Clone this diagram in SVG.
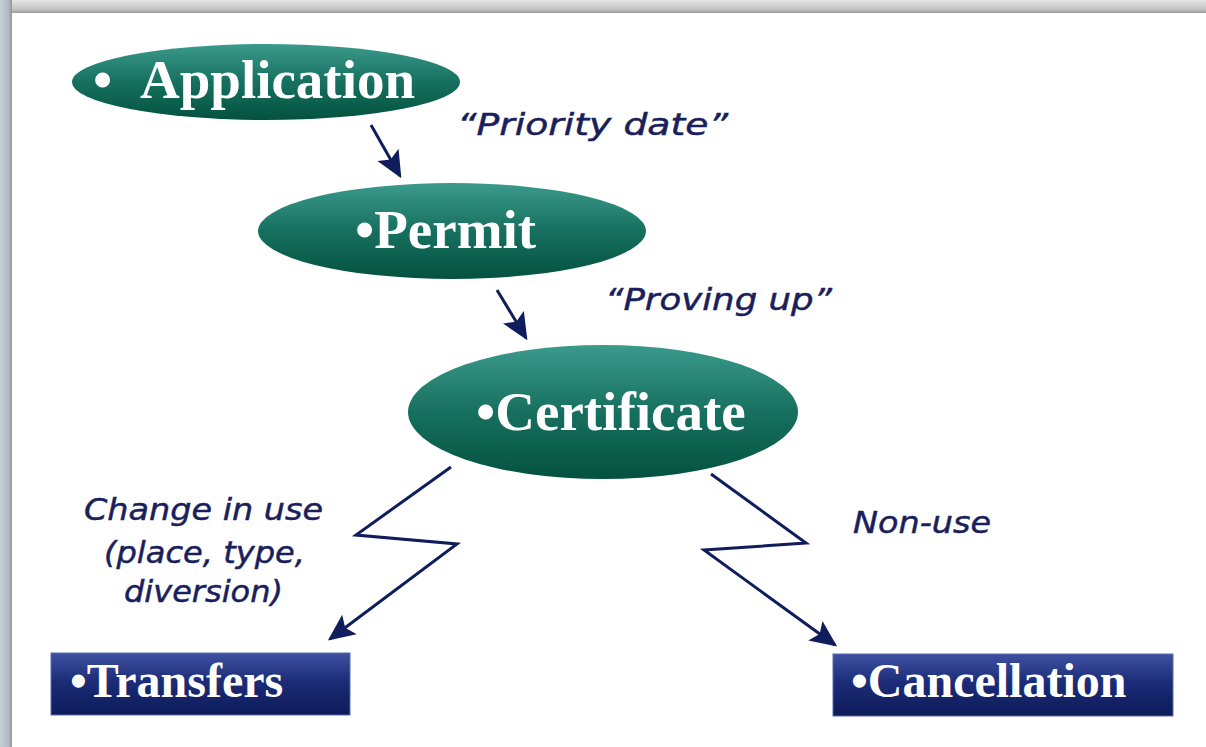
<svg xmlns="http://www.w3.org/2000/svg" width="1206" height="747" viewBox="0 0 1206 747">
<defs>
<linearGradient id="teal" x1="0" y1="0" x2="0" y2="1">
<stop offset="0" stop-color="#3b9a8c"/><stop offset="0.5" stop-color="#17705f"/><stop offset="1" stop-color="#04523f"/>
</linearGradient>
<linearGradient id="navy" x1="0" y1="0" x2="0" y2="1">
<stop offset="0" stop-color="#3e52a2"/><stop offset="0.45" stop-color="#1c2c78"/><stop offset="1" stop-color="#0d1b58"/>
</linearGradient>
<linearGradient id="topband" x1="0" y1="0" x2="0" y2="1">
<stop offset="0" stop-color="#e6e6e6"/><stop offset="0.7" stop-color="#c4c4c4"/><stop offset="1" stop-color="#9c9c9c"/>
</linearGradient>
<linearGradient id="leftband" x1="0" y1="0" x2="1" y2="0">
<stop offset="0" stop-color="#c9ced6"/><stop offset="0.7" stop-color="#b4bac4"/><stop offset="1" stop-color="#8e949c"/>
</linearGradient>
<marker id="ah" viewBox="0 0 10 10" refX="9" refY="5" markerWidth="9" markerHeight="9" markerUnits="strokeWidth" orient="auto">
<path d="M0,0.5 L10,5 L0,9.5 L2,5 z" fill="#0f1d5c"/>
</marker>
<style>
.nodeTxt{font-family:"Liberation Serif","Times New Roman",serif;font-weight:bold;fill:#ffffff;}
.lbl{font-family:"DejaVu Sans",Verdana,sans-serif;font-style:italic;fill:#1a1f5c;stroke:#1a1f5c;stroke-width:0.5;font-size:31px;}
.conn{fill:none;stroke:#0f1d5c;stroke-width:3;marker-end:url(#ah);}
</style>
</defs>
<rect width="1206" height="747" fill="#ffffff"/>
<rect x="0" y="0" width="1206" height="13" fill="url(#topband)"/>
<rect x="0" y="0" width="12" height="747" fill="url(#leftband)"/>

<g id="application">
<ellipse cx="266" cy="82" rx="194" ry="38" fill="url(#teal)"/>
<text class="nodeTxt" y="98" font-size="55"><tspan x="93">•</tspan><tspan x="140">Application</tspan></text>
</g>
<g id="permit">
<ellipse cx="452" cy="231" rx="194" ry="48" fill="url(#teal)"/>
<text class="nodeTxt" x="355" y="248" font-size="55">•Permit</text>
</g>
<g id="certificate">
<ellipse cx="603" cy="412" rx="195" ry="67" fill="url(#teal)"/>
<text class="nodeTxt" x="476" y="430" font-size="55">•Certificate</text>
</g>
<g id="transfers">
<rect x="51" y="653" width="299" height="62" fill="url(#navy)" stroke="#5a6bb0" stroke-width="1"/>
<text class="nodeTxt" x="70" y="697" font-size="48">•Transfers</text>
</g>
<g id="cancellation">
<rect x="833" y="654" width="340" height="62" fill="url(#navy)" stroke="#5a6bb0" stroke-width="1"/>
<text class="nodeTxt" x="851" y="697" font-size="48">•Cancellation</text>
</g>

<g id="connectors">
<path class="conn" d="M371,125 L400,176"/>
<path class="conn" d="M497,290 L526,338"/>
<path class="conn" d="M451,467 L356,535 L457,544 L330,639"/>
<path class="conn" d="M711,474 L806,543 L704,550 L835,645"/>
</g>

<g id="labels">
<text class="lbl" x="457" y="135" textLength="271" lengthAdjust="spacingAndGlyphs">“Priority date”</text>
<text class="lbl" x="605" y="310" textLength="227" lengthAdjust="spacingAndGlyphs">“Proving up”</text>
<text class="lbl" x="84" y="520" textLength="239" lengthAdjust="spacingAndGlyphs">Change in use</text>
<text class="lbl" x="104" y="563" textLength="201" lengthAdjust="spacingAndGlyphs">(place, type,</text>
<text class="lbl" x="124" y="602" textLength="159" lengthAdjust="spacingAndGlyphs">diversion)</text>
<text class="lbl" x="853" y="533" textLength="138" lengthAdjust="spacingAndGlyphs">Non-use</text>
</g>
</svg>
